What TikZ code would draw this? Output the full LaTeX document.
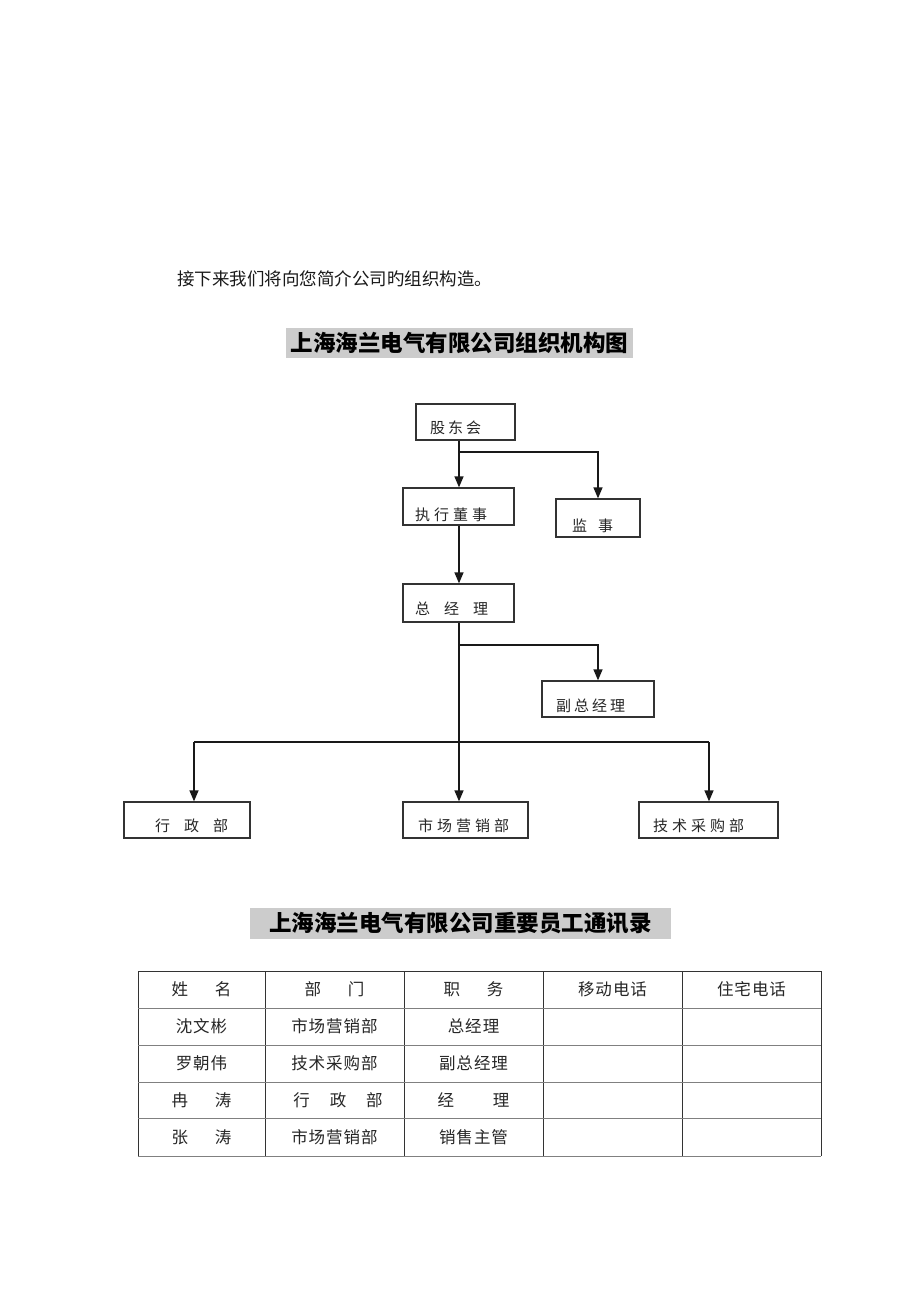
\documentclass[tikz,border=0pt]{standalone}
\usepackage{fontspec}
\newfontfamily\cjk{Noto Sans CJK SC}
\usetikzlibrary{arrows.meta,calc}
\newcommand{\gp}[1]{\hspace{#1pt}}
\begin{document}
\begin{tikzpicture}[x=1pt,y=-1pt,
  box/.style={draw=black!80,line width=1.3pt,inner sep=0,fill=white},
  lbl/.style={font=\cjk\fontsize{15pt}{15pt}\selectfont,inner sep=0,anchor=west,text=black!85},
  conn/.style={line width=1.4pt,draw=black!90},
  arr/.style={conn,-{Triangle[length=11pt,width=9pt]}},
  ttl/.style={fill=black!20,font=\cjk\bfseries\fontsize{22.5pt}{22.5pt}\selectfont,inner sep=0,text=black},
  cell/.style={font=\cjk\fontsize{16.5pt}{16.5pt}\selectfont,inner sep=0,text=black!85},
  vl/.style={line width=1pt,draw=black!80},
  hl/.style={line width=1pt,draw=black!50}
]
\useasboundingbox[fill=white] (0,0) rectangle (920,1302);

% intro and titles
\node[anchor=west,inner sep=0,font=\cjk\fontsize{17.5pt}{17.5pt}\selectfont,text=black!90] (intro) at (177,279) {接下来我们将向您简介公司旳组织构造。};
\node[ttl,minimum width=347,minimum height=30] (title1) at (459.5,343) {上海海兰电气有限公司组织机构图};
\node[ttl,minimum width=421,minimum height=31] (title2) at (460.5,923.5) {上海海兰电气有限公司重要员工通讯录};

% boxes
\node[box,minimum width=99,minimum height=36] (gdh) at (465.5,422) {};
\node[box,minimum width=111,minimum height=37] (zxds) at (458.5,506.5) {};
\node[box,minimum width=84,minimum height=38] (js) at (598,518) {};
\node[box,minimum width=111,minimum height=38] (zjl) at (458.5,603) {};
\node[box,minimum width=112,minimum height=36] (fzjl) at (598,699) {};
\node[box,minimum width=126,minimum height=36] (xzb) at (187,820) {};
\node[box,minimum width=125,minimum height=36] (scb) at (465.5,820) {};
\node[box,minimum width=139,minimum height=36] (jsb) at (708.5,820) {};

% box labels
\node[lbl] (lgdh) at (430,428) {股\gp{3}东\gp{3}会};
\node[lbl] (lzxds) at (415,515) {执\gp{4}行\gp{4}董\gp{4}事};
\node[lbl] (ljs) at (572,526) {监\gp{11}事};
\node[lbl] (lzjl) at (415,609) {总\gp{14}经\gp{14}理};
\node[lbl] (lfzjl) at (556,706) {副\gp{3}总\gp{3}经\gp{3}理};
\node[lbl] (lxzb) at (155,826) {行\gp{14}政\gp{14}部};
\node[lbl] (lscb) at (418,826) {市\gp{4}场\gp{4}营\gp{4}销\gp{4}部};
\node[lbl] (ljsb) at (653,826) {技\gp{4}术\gp{4}采\gp{4}购\gp{4}部};

% connectors
\coordinate (trunk) at (459,0);
\coordinate (b1) at (459,452);
\coordinate (b2) at (459,645);
\coordinate (hl) at (194,742);
\coordinate (hr) at (709,742);
\draw[arr] (gdh.south -| trunk) -- (zxds.north -| trunk);
\draw[arr] (b1) -| (js.north);
\draw[arr] (zxds.south -| trunk) -- (zjl.north -| trunk);
\draw[arr] (zjl.south -| trunk) -- (scb.north -| trunk);
\draw[arr] (b2) -| (fzjl.north);
\draw[conn] (hl) -- (hr);
\draw[arr] (hl) -- (xzb.north -| hl);
\draw[arr] (hr) -- (jsb.north -| hr);

% table
\foreach \x in {138,265,404,543,682,821} \draw[vl] (\x,971) -- (\x,1156);
\draw[vl] (138,971) -- (821,971);
\foreach \y in {1008,1045,1082,1118,1156} \draw[hl] (138,\y) -- (821,\y);

\node[cell] (h1) at (201.5,989.5) {姓\gp{27}名};
\node[cell] (h2) at (334.5,989.5) {部\gp{27}门};
\node[cell] (h3) at (473.5,989.5) {职\gp{27}务};
\node[cell] (h4) at (612.5,989.5) {移\gp{1}动\gp{1}电\gp{1}话};
\node[cell] (h5) at (751.5,989.5) {住\gp{1}宅\gp{1}电\gp{1}话};

\node[cell] (r1a) at (201.5,1026.5) {沈\gp{1}文\gp{1}彬};
\node[cell] (r1b) at (334.5,1026.5) {市\gp{1}场\gp{1}营\gp{1}销\gp{1}部};
\node[cell] (r1c) at (473.5,1026.5) {总\gp{1}经\gp{1}理};

\node[cell] (r2a) at (201.5,1063.5) {罗\gp{1}朝\gp{1}伟};
\node[cell] (r2b) at (334.5,1063.5) {技\gp{1}术\gp{1}采\gp{1}购\gp{1}部};
\node[cell] (r2c) at (473.5,1063.5) {副\gp{1}总\gp{1}经\gp{1}理};

\node[cell] (r3a) at (201.5,1100) {冉\gp{27}涛};
\node[cell] (r3b) at (338,1100) {行\gp{20}政\gp{20}部};
\node[cell] (r3c) at (473.5,1100) {经\gp{39}理};

\node[cell] (r4a) at (201.5,1137) {张\gp{27}涛};
\node[cell] (r4b) at (334.5,1137) {市\gp{1}场\gp{1}营\gp{1}销\gp{1}部};
\node[cell] (r4c) at (473.5,1137) {销\gp{1}售\gp{1}主\gp{1}管};
\end{tikzpicture}
\end{document}
